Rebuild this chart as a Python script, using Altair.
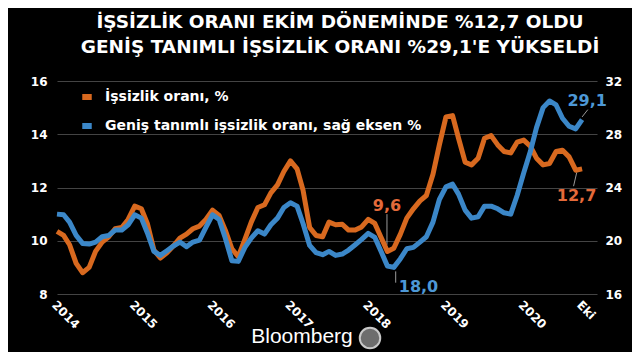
import altair as alt
import pandas as pd

# ---- data (monthly, Jan 2014 - Oct 2020) ----
start_month = "2014-01-01"
n_months = 82
unemp = [10.35, 10.2, 9.85, 9.15, 8.8, 9.0, 9.6, 9.95, 10.15, 10.45, 10.5, 10.8,
         11.3, 11.2, 10.65, 9.65, 9.35, 9.55, 9.8, 10.1, 10.25, 10.45, 10.55, 10.8,
         11.15, 10.95, 10.4, 9.7, 9.4, 10.05, 10.7, 11.25, 11.35, 11.8, 12.1, 12.6,
         13.0, 12.7, 11.9, 10.5, 10.2, 10.15, 10.7, 10.6, 10.62, 10.4, 10.4, 10.52,
         10.8, 10.65, 10.15, 9.6, 9.72, 10.25, 10.85, 11.2, 11.5, 11.7, 12.5, 13.6,
         14.65, 14.7, 13.85, 12.95, 12.85, 13.1, 13.85, 13.95, 13.6, 13.35, 13.3, 13.7,
         13.78, 13.55, 13.1, 12.85, 12.9, 13.35, 13.4, 13.15, 12.65, 12.7]
broad = [22.0, 21.95, 21.4, 20.4, 19.8, 19.75, 19.9, 20.3, 20.4, 20.8, 20.8, 21.2,
         21.95, 21.7, 20.6, 19.2, 18.9, 19.25, 19.6, 19.9, 19.55, 19.9, 20.05, 21.0,
         21.95, 21.6, 20.2, 18.5, 18.45, 19.5, 20.2, 20.75, 20.5, 21.2, 21.7, 22.5,
         22.85, 22.6, 21.3, 19.65, 19.1, 18.95, 19.2, 18.9, 19.0, 19.3, 19.7, 20.1,
         20.55, 20.25, 19.25, 18.1, 18.0, 18.65, 19.4, 19.5, 19.9, 20.3, 21.4, 23.1,
         24.05, 24.25, 23.5, 22.3, 21.7, 21.8, 22.6, 22.6, 22.4, 22.1, 22.0, 23.4,
         25.1, 26.7, 28.5, 30.0, 30.5, 30.2, 29.2, 28.6, 28.4, 29.1]

series_names = ["İşsizlik oranı, %", "Geniş tanımlı işsizlik oranı, sağ eksen %"]
title_lines = ["İŞSİZLİK ORANI EKİM DÖNEMİNDE %12,7 OLDU",
               "GENİŞ TANIMLI İŞSİZLİK ORANI %29,1'E YÜKSELDİ"]
left_ticks = [8, 10, 12, 14, 16]
right_ticks = [16, 20, 24, 28, 32]
tick_years = [2014, 2015, 2016, 2017, 2018, 2019, 2020]
last_label = "Eki"

# annotations (left axis units for orange, right axis units for blue)
ann_left_text = ["9,6", "12,7"]
ann_left_date = ["2018-03-30", "2020-09-05"]
ann_left_val = [11.3, 11.67]
lead_left_x1 = ["2018-03-30", "2020-09-06"]
lead_left_x2 = ["2018-03-30", "2020-08-22"]
lead_left_y1 = [9.85, 12.57]
lead_left_y2 = [11.0, 12.05]

ann_right_text = ["18,0", "29,1"]
ann_right_date = ["2018-08-25", "2020-10-25"]
ann_right_val = [16.55, 30.5]
lead_right_x1 = ["2018-05-10", "2020-10-01"]
lead_right_x2 = ["2018-05-10", "2020-10-28"]
lead_right_y1 = [17.7, 29.3]
lead_right_y2 = [16.85, 29.85]

ORANGE = "#D8691F"
BLUE = "#3B87C8"
ORANGE_TXT = "#E46A3A"
BLUE_TXT = "#4D98D6"
FONT = "DejaVu Sans"

dates = pd.date_range(start_month, periods=n_months, freq="MS")
df_u = pd.DataFrame({"date": dates, "value": unemp, "series": series_names[0]})
df_b = pd.DataFrame({"date": dates, "value": broad, "series": series_names[1]})
df_al = pd.DataFrame({"date": ann_left_date, "value": ann_left_val, "text": ann_left_text})
df_ar = pd.DataFrame({"date": ann_right_date, "value": ann_right_val, "text": ann_right_text})
df_ll = pd.DataFrame({"x1": lead_left_x1, "x2": lead_left_x2, "y1": lead_left_y1, "y2": lead_left_y2})
df_lr = pd.DataFrame({"x1": lead_right_x1, "x2": lead_right_x2, "y1": lead_right_y1, "y2": lead_right_y2})

x_vals = [alt.DateTime(year=y, month=1, date=1) for y in tick_years] + [alt.DateTime(year=2020, month=10, date=1)]
x_scale = alt.Scale(domain=[alt.DateTime(year=2014, month=1, date=1), alt.DateTime(year=2020, month=12, date=10)])
x_axis = alt.Axis(values=x_vals,
                  labelExpr=f"month(datum.value) == 9 ? '{last_label}' : timeFormat(datum.value, '%Y')",
                  labelAngle=45, labelAlign="left", labelBaseline="top", labelPadding=5,
                  title=None, domain=False, ticks=False, grid=False,
                  labelFont=FONT, labelFontSize=12, labelFontWeight="bold", labelColor="white")

left_scale = alt.Scale(domain=[8, 16])
right_scale = alt.Scale(domain=[16, 32])
left_axis = alt.Axis(values=left_ticks, grid=True, gridColor="#444444", domain=False, ticks=False,
                     title=None, labelPadding=10, labelFont=FONT, labelFontSize=12,
                     labelFontWeight="bold", labelColor="white", orient="left")
right_axis = alt.Axis(values=right_ticks, grid=False, domain=False, ticks=False,
                      title=None, labelPadding=8, labelFont=FONT, labelFontSize=12,
                      labelFontWeight="bold", labelColor="white", orient="right")

color = alt.Color("series:N", scale=alt.Scale(domain=series_names, range=[ORANGE, BLUE]),
                  legend=alt.Legend(orient="none", legendX=22, legendY=8, title=None,
                                    symbolType="stroke", symbolStrokeWidth=6, symbolSize=90,
                                    labelFont=FONT, labelFontSize=14, labelFontWeight="bold",
                                    labelColor="white", rowPadding=5, labelOffset=10,
                                    labelLimit=0))

line_u = alt.Chart(df_u).mark_line(strokeWidth=5, strokeJoin="round").encode(
    x=alt.X("date:T", scale=x_scale, axis=x_axis),
    y=alt.Y("value:Q", scale=left_scale, axis=left_axis),
    color=color)
text_l = alt.Chart(df_al).mark_text(font=FONT, fontSize=16, fontWeight="bold", color=ORANGE_TXT).encode(
    x=alt.X("date:T", scale=x_scale, axis=x_axis),
    y=alt.Y("value:Q", scale=left_scale, axis=left_axis),
    text="text:N")
rule_l = alt.Chart(df_ll).mark_rule(color="#9a9a9a", strokeWidth=1).encode(
    x=alt.X("x1:T", scale=x_scale, axis=x_axis), x2="x2:T",
    y=alt.Y("y1:Q", scale=left_scale, axis=left_axis), y2="y2:Q")
left = alt.layer(rule_l, line_u, text_l)

line_b = alt.Chart(df_b).mark_line(strokeWidth=5, strokeJoin="round").encode(
    x=alt.X("date:T", scale=x_scale, axis=x_axis),
    y=alt.Y("value:Q", scale=right_scale, axis=right_axis),
    color=color)
text_r = alt.Chart(df_ar).mark_text(font=FONT, fontSize=16, fontWeight="bold", color=BLUE_TXT).encode(
    x=alt.X("date:T", scale=x_scale, axis=x_axis),
    y=alt.Y("value:Q", scale=right_scale, axis=right_axis),
    text="text:N")
rule_r = alt.Chart(df_lr).mark_rule(color="#9a9a9a", strokeWidth=1).encode(
    x=alt.X("x1:T", scale=x_scale, axis=x_axis), x2="x2:T",
    y=alt.Y("y1:Q", scale=right_scale, axis=right_axis), y2="y2:Q")
right = alt.layer(rule_r, line_b, text_r)

brand = alt.Chart(pd.DataFrame({"t": ["Bloomberg"]})).mark_text(
    font="Liberation Sans", fontSize=21, color="white", align="center", baseline="middle"
).encode(x=alt.value(245), y=alt.value(256), text="t:N")
logo = alt.Chart(pd.DataFrame({"t": ["HT"]})).mark_point(
    shape="circle", size=420, filled=True, fill="#6d6d6d", stroke="#c8c8c8", strokeWidth=2, opacity=1
).encode(x=alt.value(313), y=alt.value(257))

chart = alt.layer(left, right, brand, logo).resolve_scale(y="independent").properties(
    width=540, height=213,
    autosize=alt.AutoSizeParams(type="none"),
    padding={"left": 49, "top": 73, "right": 35, "bottom": 58},
    background="#000000",
    title=alt.TitleParams(text=title_lines, anchor="middle", font=FONT, fontSize=18.5,
                          fontWeight="bold", color="white", dx=13, offset=19, lineHeight=25),
).configure_view(stroke=None)

chart.save("out.html", embed_options={"renderer": "svg", "actions": False})
